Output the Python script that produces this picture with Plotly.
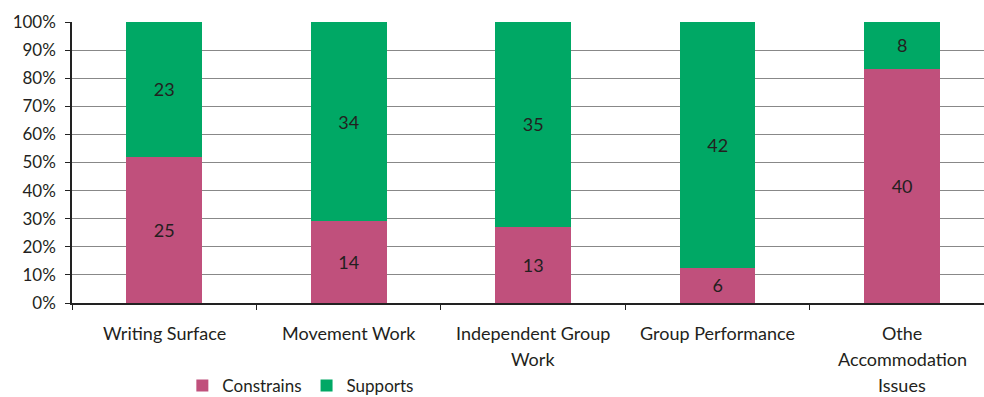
import plotly.graph_objects as go

# Counts of observations per classroom feature
categories = ["Writing Surface", "Movement Work", "Independent Group Work",
              "Group Performance", "Othe Accommodation Issues"]
label_lines = [["Writing Surface"], ["Movement Work"], ["Independent Group", "Work"],
               ["Group Performance"], ["Othe", "Accommodation", "Issues"]]
constrains = [25, 14, 13, 6, 40]
supports = [23, 34, 35, 42, 8]
y_ticks = [0, 10, 20, 30, 40, 50, 60, 70, 80, 90, 100]
y_tick_text = [f"{v}%" for v in y_ticks]

PINK = "#C0507C"
GREEN = "#00A865"
FONT = "Lato"
TEXT = "#231F20"

fig = go.Figure()
fig.add_trace(go.Bar(
    name="Constrains", x=categories, y=constrains, text=constrains,
    texttemplate="%{text}", textposition="inside", insidetextanchor="middle",
    textfont=dict(family=FONT, size=18, color=TEXT),
    marker=dict(color=PINK, line=dict(width=0)), width=0.41,
))
fig.add_trace(go.Bar(
    name="Supports", x=categories, y=supports, text=supports,
    texttemplate="%{text}", textposition="inside", insidetextanchor="middle",
    textfont=dict(family=FONT, size=18, color=TEXT),
    marker=dict(color=GREEN, line=dict(width=0)), width=0.41,
))

# Category labels, one annotation per line for wider line spacing
annotations = []
for cat, lines in zip(categories, label_lines):
    for i, line in enumerate(lines):
        annotations.append(dict(
            x=cat, y=0, xref="x", yref="paper", text=line, showarrow=False,
            xanchor="center", yanchor="middle", yshift=-(30 + 26 * i),
            font=dict(family=FONT, size=18, color=TEXT),
        ))

fig.update_layout(
    barmode="stack", barnorm="percent",
    width=984, height=397,
    margin=dict(l=72, r=0, t=22, b=94),
    paper_bgcolor="white", plot_bgcolor="white",
    font=dict(family=FONT, color=TEXT),
    showlegend=True,
    legend=dict(orientation="h", x=0.121, xref="paper",
                y=0.028, yref="container", xanchor="left", yanchor="middle",
                font=dict(family=FONT, size=17, color=TEXT),
                itemwidth=30, traceorder="normal", tracegroupgap=0),
    annotations=annotations,
    xaxis=dict(
        type="category", range=[-0.5, 4.444], showticklabels=False,
        tickson="boundaries", ticks="outside", ticklen=5, tickcolor="#222",
        showline=True, linecolor="#222", linewidth=1.5, showgrid=False,
    ),
    yaxis=dict(
        range=[0, 100], tickvals=y_ticks, ticktext=y_tick_text,
        ticks="outside", ticklen=5, tickcolor="#222",
        showline=True, linecolor="#222", linewidth=1.5,
        showgrid=True, gridcolor="#888", gridwidth=1, zeroline=False,
        tickfont=dict(family=FONT, size=17, color=TEXT), ticklabelstandoff=6,
    ),
)

fig.write_html("out.html")
